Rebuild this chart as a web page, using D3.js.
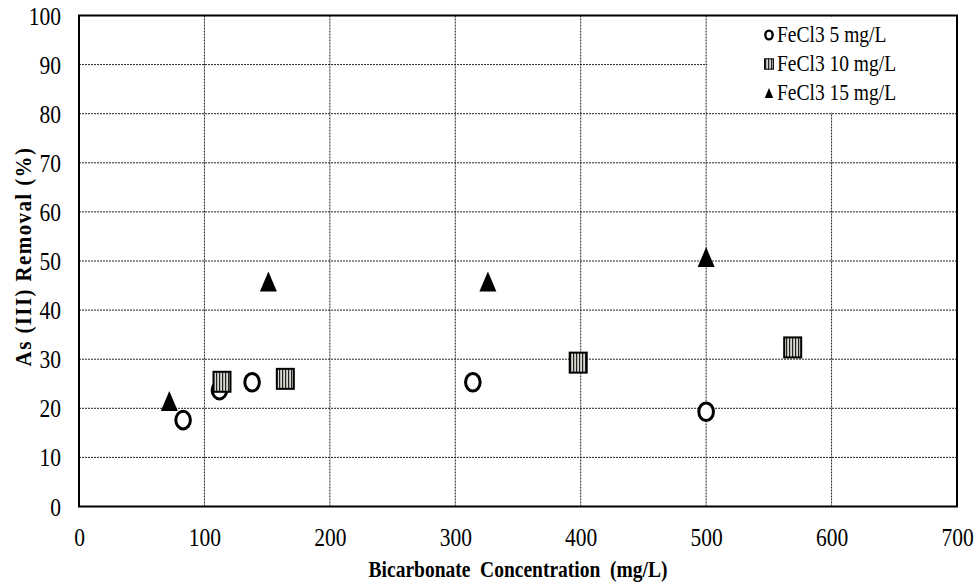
<!DOCTYPE html>
<html>
<head>
<meta charset="utf-8">
<script src="https://cdn.jsdelivr.net/npm/d3@7"></script>
<style>
  html, body { margin: 0; padding: 0; background: #fff; }
  svg { display: block; }
</style>
</head>
<body>
<svg id="chart" width="976" height="588"></svg>
<script>
// ---- data ----
const fe5X  = [83, 112, 138, 314, 500];
const fe5Y  = [17.6, 23.7, 25.3, 25.3, 19.3];
const fe10X = [114, 164.5, 398, 569];
const fe10Y = [25.4, 26.0, 29.3, 32.4];
const fe15X = [72, 151, 326, 500];
const fe15Y = [21.5, 45.8, 45.8, 50.8];
const seriesNames = ["FeCl3 5 mg/L", "FeCl3 10 mg/L", "FeCl3 15 mg/L"];
const xTicks = [0, 100, 200, 300, 400, 500, 600, 700];
const yTicks = [0, 10, 20, 30, 40, 50, 60, 70, 80, 90, 100];
const xTitle = "Bicarbonate  Concentration  (mg/L)";
const yTitle = "As (III) Removal (%)";

// ---- layout ----
const svg = d3.select("#chart");
const L = 79, R = 957, T = 15.5, B = 506.5;
const x = d3.scaleLinear().domain([0, 700]).range([L, R]);
const y = d3.scaleLinear().domain([0, 100]).range([B, T]);
const SY = 1.15; // vertical stretch of text seen in the reference

const defs = svg.append("defs");
const pat = defs.append("pattern").attr("id", "stripes")
  .attr("patternUnits", "userSpaceOnUse").attr("width", 3).attr("height", 10);
pat.append("rect").attr("width", 3).attr("height", 10).attr("fill", "#d8d8d0");
pat.append("rect").attr("width", 1.2).attr("height", 10).attr("fill", "#222");

// gridlines
const grid = svg.append("g").attr("stroke", "#222").attr("stroke-width", 1)
  .attr("stroke-dasharray", "2,1");
grid.selectAll("line.h").data(yTicks.slice(1, -1)).join("line")
  .attr("x1", L).attr("x2", R).attr("y1", d => y(d)).attr("y2", d => y(d));
grid.selectAll("line.v").data(xTicks.slice(1, -1)).join("line")
  .attr("y1", T).attr("y2", B).attr("x1", d => x(d)).attr("x2", d => x(d));

// legend background covering gridlines
svg.append("rect").attr("x", x(500) + 1).attr("y", T + 1)
  .attr("width", R - x(500) - 2).attr("height", y(80) - T - 2).attr("fill", "#fff");

// plot border
svg.append("rect").attr("x", L).attr("y", T).attr("width", R - L).attr("height", B - T)
  .attr("fill", "none").attr("stroke", "#000").attr("stroke-width", 2);

// axes
const fontFam = "'Liberation Serif', 'Times New Roman', serif";
const ax = svg.append("g").attr("transform", `translate(0,${B})`)
  .call(d3.axisBottom(x).tickValues(xTicks).tickSize(0).tickPadding(0).tickFormat(d3.format("d")));
const ay = svg.append("g").attr("transform", `translate(${L},0)`)
  .call(d3.axisLeft(y).tickValues(yTicks).tickSize(0).tickPadding(18).tickFormat(d3.format("d")));
[ax, ay].forEach(g => {
  g.select(".domain").remove();
  g.selectAll("text").attr("font-family", fontFam).attr("font-size", 21.5).attr("fill", "#000");
});
ax.selectAll("text").attr("y", 0).attr("dy", null)
  .attr("transform", `translate(0,31) scale(1,${SY})`).attr("dominant-baseline", "central");
ay.selectAll("text").attr("dy", null).attr("dominant-baseline", "central")
  .attr("transform", `scale(1,${SY})`);

// titles
svg.append("text").attr("transform", `translate(${(L + R) / 2},577) scale(1,${SY})`)
  .attr("text-anchor", "middle").attr("font-family", fontFam).attr("font-weight", "bold")
  .attr("font-size", 19.5).style("white-space", "pre").text(xTitle);
svg.append("text").attr("transform", `translate(31,${(143 + 370) / 2}) rotate(-90) scale(1,1.1)`)
  .attr("text-anchor", "middle").attr("font-family", fontFam).attr("font-weight", "bold")
  .attr("font-size", 21).attr("letter-spacing", 1.4).text(yTitle);

// markers
function drawCircle(g, cx, cy, s, sw) {
  g.append("ellipse").attr("cx", cx).attr("cy", cy).attr("rx", 7.3 * s).attr("ry", 8.8 * s)
    .attr("fill", "#fff").attr("stroke", "#000").attr("stroke-width", sw || 3);
}
function drawSquare(g, cx, cy, s) {
  g.append("rect").attr("x", cx - 8.5 * s).attr("y", cy - 10 * s)
    .attr("width", 17 * s).attr("height", 20 * s)
    .attr("fill", "url(#stripes)").attr("stroke", "#000").attr("stroke-width", 2 * s);
}
function drawTri(g, cx, cy, s) {
  const w = 8.5 * s, h = 10 * s;
  g.append("path").attr("d", `M${cx},${cy - h}L${cx + w},${cy + h}L${cx - w},${cy + h}Z`)
    .attr("fill", "#000");
}

const pts = svg.append("g");
fe15X.forEach((d, i) => drawTri(pts, x(d), y(fe15Y[i]), 1));
fe5X.forEach((d, i) => drawCircle(pts, x(d), y(fe5Y[i]), 1));
fe10X.forEach((d, i) => drawSquare(pts, x(d), y(fe10Y[i]), 1));

// legend
const leg = svg.append("g");
const legY = [35, 64, 93];
seriesNames.forEach((name, i) => {
  if (i === 0) drawCircle(leg, 769, legY[i], 0.5, 2.4);
  if (i === 1) drawSquare(leg, 769, legY[i], 0.52);
  if (i === 2) drawTri(leg, 769, legY[i], 0.5);
  leg.append("text").attr("transform", `translate(777,${legY[i]}) scale(1,${SY})`)
    .attr("dominant-baseline", "central")
    .attr("font-family", fontFam).attr("font-size", 19.5).attr("fill", "#000").text(name);
});
</script>
</body>
</html>
